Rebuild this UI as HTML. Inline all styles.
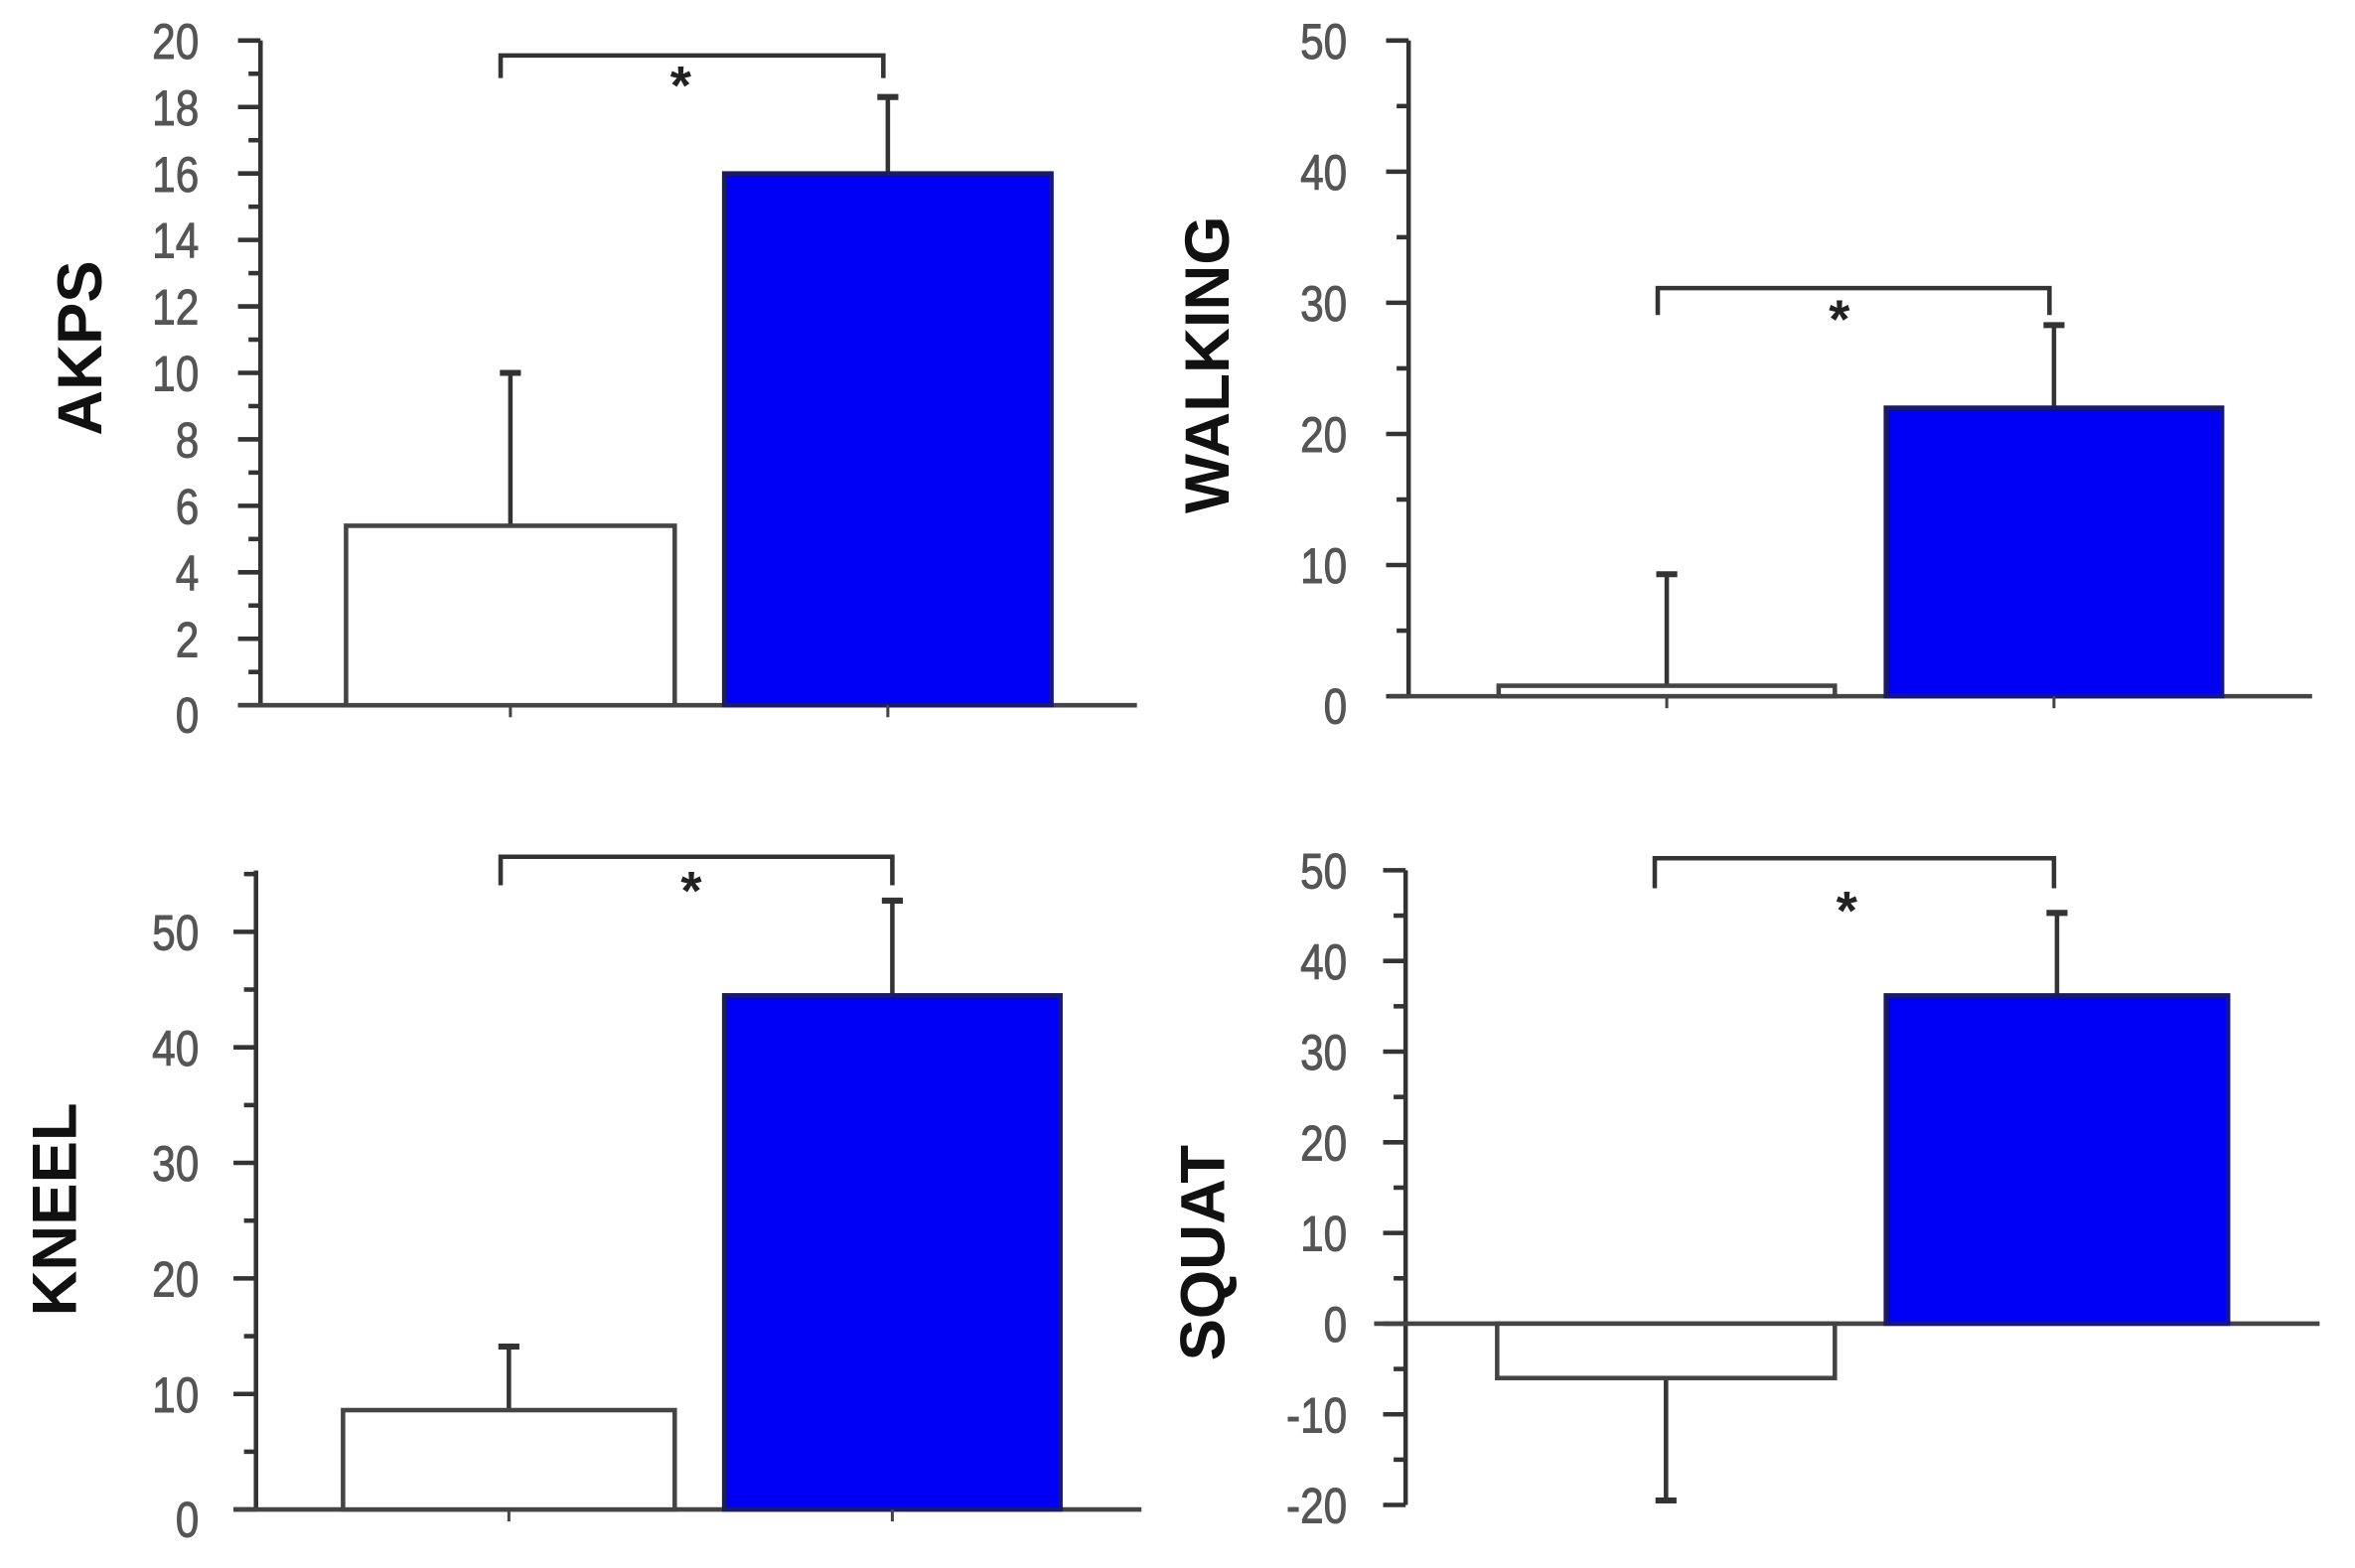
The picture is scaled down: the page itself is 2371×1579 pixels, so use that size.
<!DOCTYPE html>
<html><head><meta charset="utf-8"><style>
html,body{margin:0;padding:0;background:#fff;}
svg{display:block;}
text{font-family:"Liberation Sans",Arial,sans-serif;}
</style></head><body>
<svg id="chart" width="2371" height="1579" viewBox="0 0 1568 1045" xmlns="http://www.w3.org/2000/svg"></svg>
<script>
const panelNames = ["AKPS","WALKING","KNEEL","SQUAT"];
const controlValues = [5.4, 0.8, 8.6, -6];
const controlErrors = [10, 9.3, 14.1, -19.5];
const treatValues = [16, 22, 44.5, 36.2];
const treatErrors = [18.3, 28.3, 52.7, 45.3];
const tickLabels = [[0,2,4,6,8,10,12,14,16,18,20],[0,10,20,30,40,50],[0,10,20,30,40,50],[-20,-10,0,10,20,30,40,50]];
const minorSteps = [1,5,5,5];
const yMins = [0,0,0,-20];
const yMaxs = [20,50,55.3,50];

const layout = [
 {ax:173, y0:470, y1:27, vmin:0, vmax:20, xl:158, xr:757, lab:132, b1:[230,449], b2:[482,700], br:[333,588,37,52], star:[453,69], title:[52,232]},
 {ax:938, y0:464, y1:27, vmin:0, vmax:50, xl:925, xr:1540, lab:897, b1:[998,1222], b2:[1256,1480], br:[1104,1365,192,210], star:[1225,225], title:[803,243]},
 {ax:170, y0:1006, y1:621, vmin:0, vmax:50, xl:155, xr:760, lab:132, b1:[228,449], b2:[482,706], br:[333,594,571,590], star:[460,606], title:[35,806]},
 {ax:936, y0:1003, y1:580, vmin:-20, vmax:50, xl:915, xr:1545, lab:897, b1:[997,1222], b2:[1256,1484], br:[1102,1368,572,592], star:[1230,619], title:[800,835]}
];
const NS="http://www.w3.org/2000/svg";
const svg=document.getElementById('chart');
function mk(tag,attrs,parent){const e=document.createElementNS(NS,tag);for(const k in attrs)e.setAttribute(k,attrs[k]);(parent||svg).appendChild(e);return e;}

layout.forEach((L,i)=>{
  const g=mk('g',{});
  
  
  const y=v=>L.y0+(v-L.vmin)*(L.y1-L.y0)/(L.vmax-L.vmin);
  const top=y(yMaxs[i]), bot=y(yMins[i]);
  const zero=y(0);
  const axis=mk('line',{x1:L.ax,x2:L.ax,y1:top,y2:bot,stroke:'#333','stroke-width':3},g);
  
  
  for(let v=yMins[i]; v<=yMaxs[i]+1e-6; v+=minorSteps[i]){
    const major=tickLabels[i].includes(v);
    const t=mk('line',{x1:L.ax-(major?15:8),x2:L.ax,y1:y(v),y2:y(v),stroke:'#333','stroke-width':3},g);
    
    
  }
  tickLabels[i].forEach(v=>{
    const t=mk('text',{x:L.lab,y:y(v)+12+(v===0&&i!==3?6:0),'text-anchor':'end','font-size':33,fill:'#555','stroke':'#555','stroke-width':0.6,transform:`translate(${L.lab},0) scale(0.85,1) translate(${-L.lab},0)`},g);
    t.textContent=v;
    
    
  });
  const xa=mk('line',{x1:L.xl,x2:L.xr,y1:zero,y2:zero,stroke:'#444','stroke-width':3},g);
  
  
  [[L.b1,controlValues[i],controlErrors[i],'#fff','control'],[L.b2,treatValues[i],treatErrors[i],'#0000f5','treatment']].forEach(([bx,v,e,fill,nm])=>{
    const cx=(bx[0]+bx[1])/2;
    const eb=mk('line',{x1:cx,x2:cx,y1:y(v),y2:y(e),stroke:'#333','stroke-width':3},g);
    
    
    const cap=mk('line',{x1:cx-7,x2:cx+7,y1:y(e),y2:y(e),stroke:'#333','stroke-width':4},g);
    
    
    const r=mk('rect',{x:bx[0],y:Math.min(y(v),zero),width:bx[1]-bx[0],height:Math.abs(zero-y(v)),fill:fill,stroke:fill==='#fff'?'#444':'#1a1a6a','stroke-width':3},g);
    
    
    if(i!==3){
      const ct=mk('line',{x1:cx,x2:cx,y1:zero,y2:zero+8,stroke:'#444','stroke-width':2},g);
      
      
    }
  });
  const b=L.br;
  const br=mk('path',{d:`M${b[0]} ${b[3]} V${b[2]} H${b[1]} V${b[3]}`,fill:'none',stroke:'#333','stroke-width':3},g);
  
  
  const st=mk('text',{x:L.star[0],y:L.star[1],'text-anchor':'middle','font-size':36,'font-weight':'bold',fill:'#222'},g);
  st.textContent='*';
  
  
  const tt=mk('text',{x:L.title[0],y:L.title[1],'text-anchor':'middle','font-size':42,'font-weight':'bold',fill:'#111',transform:`rotate(-90 ${L.title[0]} ${L.title[1]})`,dy:15},g);
  tt.textContent=panelNames[i];
  
  
});
</script>
</body></html>
